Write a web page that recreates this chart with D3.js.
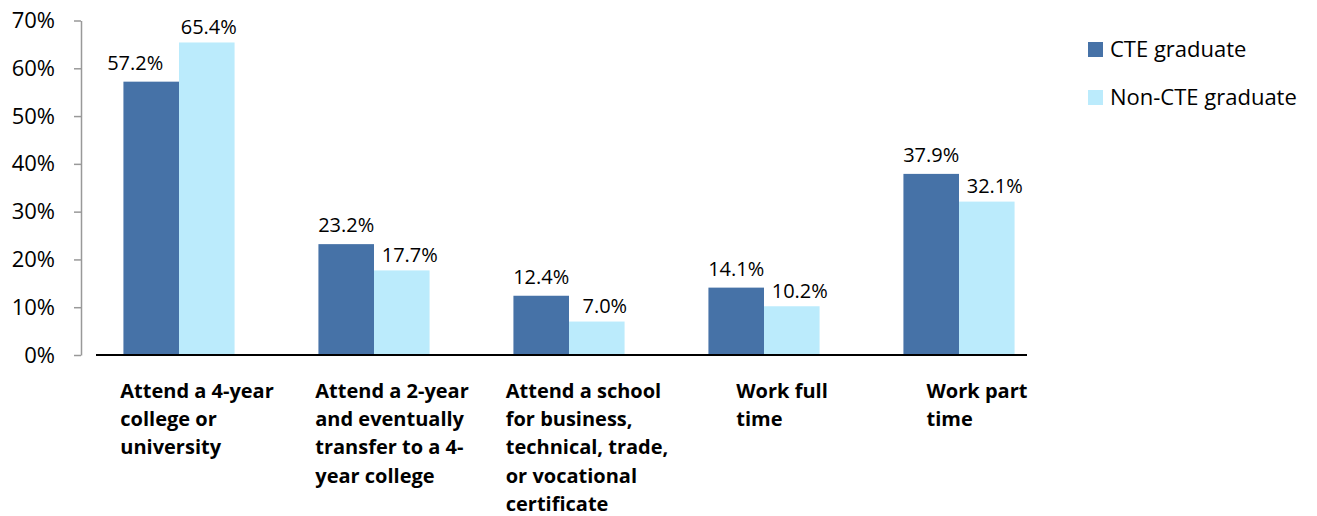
<!DOCTYPE html>
<html>
<head>
<meta charset="utf-8">
<script src="https://cdn.jsdelivr.net/npm/d3@7"></script>
<style>
  body { margin: 0; background: #fff; }
  svg { display: block; font-family: "Open Sans", sans-serif; }
</style>
</head>
<body>
<svg width="1317" height="516"></svg>
<script>
'use strict';

// data
var categories = ['4yr', '2yr', 'school', 'fulltime', 'parttime'];
var categoryLines = [
    ['Attend a 4-year', 'college or', 'university'],
    ['Attend a 2-year', 'and eventually', 'transfer to a 4-', 'year college'],
    ['Attend a school', 'for business,', 'technical, trade,', 'or vocational', 'certificate'],
    ['Work full', 'time'],
    ['Work part', 'time']
];
var seriesNames = ['CTE graduate', 'Non-CTE graduate'];
var cteValues = [57.2, 23.2, 12.4, 14.1, 37.9];
var nonCteValues = [65.4, 17.7, 7.0, 10.2, 32.1];
var yTicks = [0, 10, 20, 30, 40, 50, 60, 70];

var colors = ['#4672a7', '#bbebfc'];

var svg = d3.select('svg');

// scales
var x0 = d3.scaleBand()
    .domain(categories)
    .range([81.5, 1056.5])
    .paddingInner(0.43)
    .paddingOuter(0.215);

var x1 = d3.scaleBand()
    .domain(seriesNames)
    .range([0, x0.bandwidth()]);

var y = d3.scaleLinear()
    .domain([0, 70])
    .range([355, 20.5]);

// y axis
var yAxis = svg.append('g')
    .attr('transform', 'translate(81,0)')
    .call(d3.axisLeft(y)
        .tickValues(yTicks)
        .tickFormat(function (d) { return d + '%'; })
        .tickSizeInner(7)
        .tickSizeOuter(0)
        .tickPadding(19));
yAxis.select('.domain').attr('stroke', '#999').attr('stroke-width', 1.5);
yAxis.selectAll('.tick line').attr('stroke', '#999').attr('stroke-width', 1.5);
yAxis.selectAll('.tick text')
    .attr('fill', '#000')
    .style('font-size', '22px')
    .style('font-family', '"Open Sans", sans-serif');

// bars
var rows = categories.map(function (c, i) {
    return { cat: c, i: i, vals: [cteValues[i], nonCteValues[i]] };
});

var groups = svg.selectAll('g.group')
    .data(rows)
    .enter().append('g')
    .attr('class', 'group')
    .attr('transform', function (d) { return 'translate(' + x0(d.cat) + ',0)'; });

groups.selectAll('rect')
    .data(function (d) {
        return d.vals.map(function (v, k) { return { name: seriesNames[k], k: k, v: v }; });
    })
    .enter().append('rect')
    .attr('x', function (d) { return x1(d.name); })
    .attr('y', function (d) { return y(d.v); })
    .attr('width', x1.bandwidth())
    .attr('height', function (d) { return y(0) - y(d.v); })
    .attr('fill', function (d) { return colors[d.k]; });

// value labels (nudged apart the way Excel placed them)
groups.each(function (row) {
    var g = d3.select(this);
    row.vals.forEach(function (v, k) {
        var cx = x1(seriesNames[k]) + x1.bandwidth() / 2;
        var gap = k === 0 ? 12 : 8.5;
        if (k === 0 && row.vals[1] > v) cx -= 16;
        if (k === 1) cx += row.vals[0] > v ? 8 : 2;
        g.append('text')
            .attr('x', cx)
            .attr('y', y(v) - gap)
            .attr('text-anchor', 'middle')
            .style('font-size', '20px')
            .attr('fill', '#000')
            .text(v.toFixed(1) + '%');
    });
});

// x axis line
svg.append('line')
    .attr('x1', 96).attr('x2', 1027)
    .attr('y1', y(0)).attr('y2', y(0))
    .attr('stroke', '#000')
    .attr('stroke-width', 2);

// category labels, left-aligned lines in a block centred a bit right of the band
groups.each(function (row) {
    var g = d3.select(this);
    var t = g.append('text')
        .style('font-size', '20px')
        .style('font-weight', 'bold')
        .attr('fill', '#000');
    categoryLines[row.i].forEach(function (line, j) {
        t.append('tspan')
            .attr('x', 0)
            .attr('y', 398 + j * 28.2)
            .text(line);
    });
    var maxW = 0;
    t.selectAll('tspan').each(function () {
        maxW = Math.max(maxW, this.getComputedTextLength());
    });
    var left = x0.bandwidth() / 2 + 18 - maxW / 2;
    t.selectAll('tspan').attr('x', left);
});

// legend
var legend = svg.selectAll('g.legend')
    .data(seriesNames)
    .enter().append('g')
    .attr('class', 'legend')
    .attr('transform', function (d, i) { return 'translate(1088,' + (42 + i * 48) + ')'; });

legend.append('rect')
    .attr('width', 15)
    .attr('height', 15)
    .attr('fill', function (d, i) { return colors[i]; });

legend.append('text')
    .attr('x', 22)
    .attr('y', 14.5)
    .style('font-size', '22px')
    .attr('fill', '#000')
    .text(function (d) { return d; });
</script>
</body>
</html>
